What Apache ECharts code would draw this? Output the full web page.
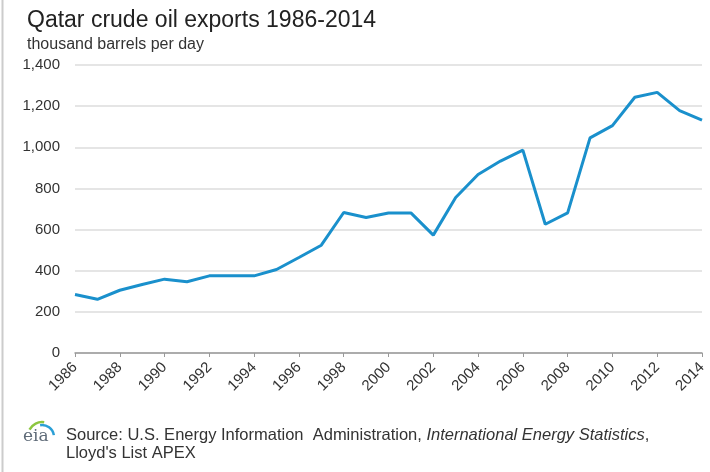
<!DOCTYPE html>
<html>
<head>
<meta charset="utf-8">
<script src="https://cdn.jsdelivr.net/npm/echarts@6/dist/echarts.min.js"></script>
<style>
html, body { margin: 0; padding: 0; background: #fff; }
#chart { width: 710px; height: 472px; }
</style>
</head>
<body>
<div id="chart"></div>
<script>
// 年份
var years = ['1986', '1987', '1988', '1989', '1990', '1991', '1992', '1993', '1994', '1995',
	'1996', '1997', '1998', '1999', '2000', '2001', '2002', '2003', '2004', '2005',
	'2006', '2007', '2008', '2009', '2010', '2011', '2012', '2013', '2014'];

// 出口量 thousand barrels per day
var exportsKbd = [284, 261, 305, 333, 359, 346, 375, 375, 375, 406,
	464, 524, 683, 659, 681, 681, 573, 756, 868, 933,
	986, 626, 681, 1046, 1105, 1243, 1267, 1178, 1132];

var yTicks = [0, 200, 400, 600, 800, 1000, 1200, 1400];

var fontFamily = '"Liberation Sans", Arial, sans-serif';

var chart = echarts.init(document.getElementById('chart'));

var option = {
	animation : false,
	title : {
		text : 'Qatar crude oil exports 1986-2014',
		subtext : 'thousand barrels per day',
		left : 22,
		top : 4,
		itemGap : 5,
		textStyle : {
			fontFamily : fontFamily,
			fontSize : 23,
			fontWeight : 'normal',
			color : '#222'
		},
		subtextStyle : {
			fontFamily : fontFamily,
			fontSize : 16,
			color : '#333'
		}
	},
	grid : {
		left : 75,
		right : 8,
		top : 65,
		bottom : 119
	},
	xAxis : {
		type : 'category',
		data : years,
		boundaryGap : false,
		axisLine : { lineStyle : { color : '#999', width : 1.5 } },
		axisTick : {
			interval : 1,
			length : 4,
			lineStyle : { color : '#999' }
		},
		axisLabel : {
			interval : 1,
			rotate : 45,
			margin : 12,
			fontFamily : fontFamily,
			fontSize : 15,
			color : '#333'
		}
	},
	yAxis : {
		type : 'value',
		min : yTicks[0],
		max : yTicks[yTicks.length - 1],
		interval : 200,
		axisLine : { show : false },
		axisTick : { show : false },
		axisLabel : {
			margin : 15,
			fontFamily : fontFamily,
			fontSize : 15,
			color : '#333',
			formatter : function (v) {
				return v.toLocaleString('en-US');
			}
		},
		splitLine : { lineStyle : { color : '#ddd', width : 1.5 } }
	},
	series : [{
		type : 'line',
		data : exportsKbd,
		symbol : 'none',
		lineStyle : { color : '#1a90cc', width : 3 }
	}],
	graphic : [
		{//左侧边框
			type : 'line',
			shape : { x1 : 2.5, y1 : 0, x2 : 2.5, y2 : 472 },
			style : { stroke : '#ccc', lineWidth : 2 }
		},
		{//eia logo
			type : 'arc',
			shape : { cx : 42, cy : 436, r : 14, startAngle : -Math.PI * 0.85, endAngle : -Math.PI * 0.45 },
			style : { stroke : '#8cc63f', lineWidth : 2.5, fill : null }
		},
		{
			type : 'arc',
			shape : { cx : 42, cy : 437, r : 12, startAngle : -Math.PI * 0.55, endAngle : -Math.PI * 0.05 },
			style : { stroke : '#2a9fd6', lineWidth : 2.5, fill : null }
		},
		{
			type : 'text',
			left : 23,
			top : 428,
			style : {
				text : 'eia',
				fontFamily : '"DejaVu Serif", serif',
				fontSize : 17,
				fill : '#5f6b78'
			}
		},
		{
			type : 'text',
			left : 66,
			top : 426,
			style : {
				text : 'Source: U.S. Energy Information  Administration, {i|International Energy Statistics},\nLloyd\'s List APEX',
				fontFamily : fontFamily,
				fontSize : 16.5,
				lineHeight : 18,
				fill : '#333',
				rich : {
					i : {
						fontStyle : 'italic',
						fontFamily : fontFamily,
						fontSize : 16.5,
						lineHeight : 18,
						fill : '#333'
					}
				}
			}
		}
	]
};

chart.setOption(option);
</script>
</body>
</html>
